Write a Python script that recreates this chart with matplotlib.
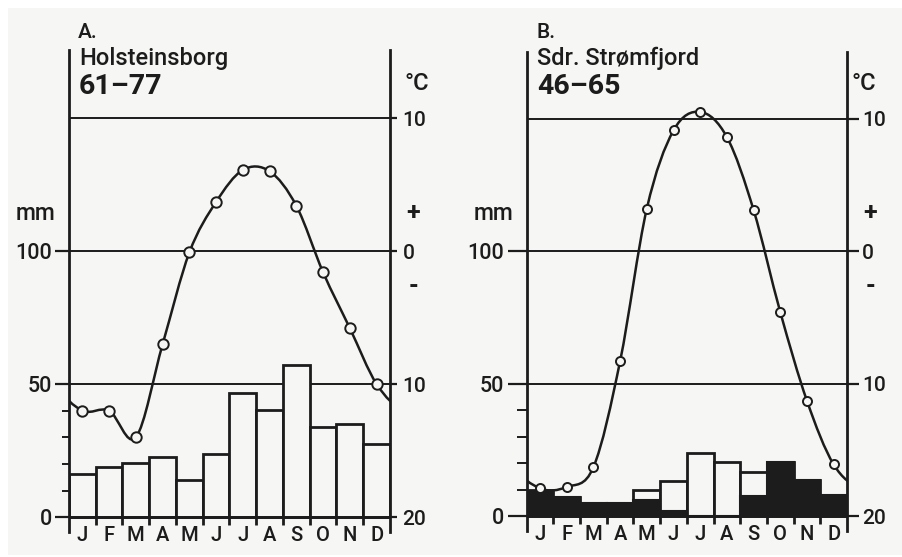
import numpy as np
import matplotlib
matplotlib.use('Agg')
import matplotlib.pyplot as plt
from matplotlib.path import Path
from matplotlib.patches import PathPatch, Rectangle

plt.rcParams['font.family'] = ['Roboto', 'DejaVu Sans']
plt.rcParams['font.weight'] = 'medium'

months = ['J', 'F', 'M', 'A', 'M', 'J', 'J', 'A', 'S', 'O', 'N', 'D']

# A. Holsteinsborg 61-77
rain_a = [16.3, 18.8, 20.3, 22.5, 14.0, 23.9, 46.8, 40.1, 57.1, 33.9, 35.1, 27.6]
temp_a = [-12.0, -12.0, -14.0, -7.0, -0.1, 3.7, 6.1, 6.0, 3.4, -1.6, -5.8, -10.0]

# B. Sdr. Stromfjord 46-65 (total and black part)
rain_b = [10.0, 7.3, 4.8, 4.8, 10.0, 13.3, 23.7, 20.3, 16.5, 20.5, 13.6, 7.9]
snow_b = [9.0, 7.3, 4.8, 4.8, 6.0, 1.8, 0.0, 0.0, 7.5, 20.5, 13.6, 7.9]
temp_b = [-17.9, -17.8, -16.3, -8.3, 3.2, 9.1, 10.5, 8.6, 3.1, -4.6, -11.3, -16.1]

INK = '#1c1c1c'
BG = '#f6f6f4'


def smooth_path(temps):
    # periodic catmull-rom through the monthly values, as cubic bezier segments
    t = list(temps)
    ys = [t[-2], t[-1]] + t + [t[0], t[1]]
    xs = np.arange(len(ys)) - 1.5
    verts = [(xs[1], ys[1])]
    codes = [Path.MOVETO]
    for i in range(1, len(ys) - 2):
        p0, p1, p2, p3 = ys[i - 1], ys[i], ys[i + 1], ys[i + 2]
        verts += [(xs[i] + 1 / 3, p1 + (p2 - p0) / 6),
                  (xs[i + 1] - 1 / 3, p2 - (p3 - p1) / 6),
                  (xs[i + 1], p2)]
        codes += [Path.CURVE4] * 3
    return Path(verts, codes)


def draw_panel(rect, ylim, rain, snow, temps, maj_len, min_len, r_len, r_pad, ms):
    ax = fig.add_axes(rect)
    ax.set_facecolor('none')
    ax.set_xlim(0, 12)
    ax.set_ylim(*ylim)
    for s in ['top', 'bottom', 'right']:
        ax.spines[s].set_visible(False)
    ax.spines['left'].set_linewidth(2)
    ax.spines['left'].set_color(INK)

    x = np.arange(12) + 0.5
    ax.bar(x, rain, width=1, facecolor=BG, edgecolor=INK, linewidth=2, zorder=2)
    if snow is not None:
        ax.bar(x, snow, width=1, facecolor=INK, edgecolor=INK, linewidth=1.5, zorder=2)

    ax.hlines([50, 100, 150], 0, 12, color=INK, linewidth=1.4, zorder=1)
    ax.hlines(0, 0, 12, color=INK, linewidth=2, zorder=3)
    ax.vlines(np.arange(1, 12), -3, 0, color=INK, linewidth=2, clip_on=False, zorder=3)

    ax.set_xticks([])
    ax.set_yticks([0, 50, 100])
    ax.set_yticks([10, 20, 30, 40], minor=True)
    ax.tick_params(axis='y', which='major', direction='out', length=maj_len, width=1.6,
                   color=INK, labelsize=15.5, labelcolor=INK, pad=2)
    ax.tick_params(axis='y', which='minor', direction='out', length=min_len, width=1.4,
                   color=INK)
    for xi, m in zip(x, months):
        ax.text(xi, -7.0, m, ha='center', va='center', fontsize=14.5, color=INK)
    ax.text(-0.5, 114, 'mm', ha='right', va='center', fontsize=16.5, color=INK,
            transform=ax.transData)

    ax2 = ax.twinx()
    ax2.set_ylim((ylim[0] - 100) / 5, (ylim[1] - 100) / 5)
    for s in ['top', 'bottom', 'left']:
        ax2.spines[s].set_visible(False)
    ax2.spines['right'].set_linewidth(2)
    ax2.spines['right'].set_color(INK)
    ax2.set_yticks([-20, -10, 0, 10])
    ax2.set_yticklabels(['20', '10', '0', '10'])
    ax2.tick_params(axis='y', direction='out', length=r_len, width=1.6, color=INK,
                    labelsize=15, labelcolor=INK, pad=r_pad)
    ax2.text(1.072, 2.9, '+', transform=ax2.get_yaxis_transform(), ha='center',
             va='center', fontsize=18, fontweight='bold', color=INK)
    ax2.text(1.072, -2.6, '-', transform=ax2.get_yaxis_transform(), ha='center',
             va='center', fontsize=18, fontweight='bold', color=INK)

    ax2.add_patch(PathPatch(smooth_path(temps), facecolor='none', edgecolor=INK,
                            linewidth=1.8, zorder=4))
    ax2.plot(x, temps, linestyle='none', marker='o', markersize=ms,
             markerfacecolor=BG, markeredgecolor=INK, markeredgewidth=1.4, zorder=5)
    return ax, ax2


fig = plt.figure(figsize=(9.03, 5.57), dpi=100)
fig.patch.set_facecolor('white')
fig.add_artist(Rectangle((8 / 903, 2 / 557), 1 - 8 / 903, 1 - 10 / 557,
                         transform=fig.transFigure, facecolor=BG, edgecolor='none',
                         zorder=-10))

W, H = 903.0, 557.0
draw_panel([69 / W, 25 / H, 321 / W, 482 / H], (-5.6, 175.6),
           rain_a, None, temp_a, 10, 5, 5, 4, 7.5)
draw_panel([526.7 / W, 26 / H, 320.3 / W, 479 / H], (-5.6, 175.1),
           rain_b, snow_b, temp_b, 14, 7, 8.5, 2.5, 6.5)

for x0, lab, st, per in [(78, 'A.', 'Holsteinsborg', '61–77'),
                         (536, 'B.', 'Sdr. Strømfjord', '46–65')]:
    fig.text(x0 / W, 1 - 32 / H, lab, ha='left', va='center', fontsize=15, color=INK)
    fig.text((x0 + 1) / W, 1 - 58 / H, st, ha='left', va='center', fontsize=17, color=INK)
    fig.text((x0 + 1) / W, 1 - 86 / H, per, ha='left', va='center', fontsize=20.5,
             fontweight='bold', color=INK)

fig.text(417 / W, 1 - 83 / H, '°C', ha='center', va='center', fontsize=17, color=INK)
fig.text(864 / W, 1 - 83 / H, '°C', ha='center', va='center', fontsize=17, color=INK)

fig.savefig('out.png', dpi=100, facecolor=fig.get_facecolor())
